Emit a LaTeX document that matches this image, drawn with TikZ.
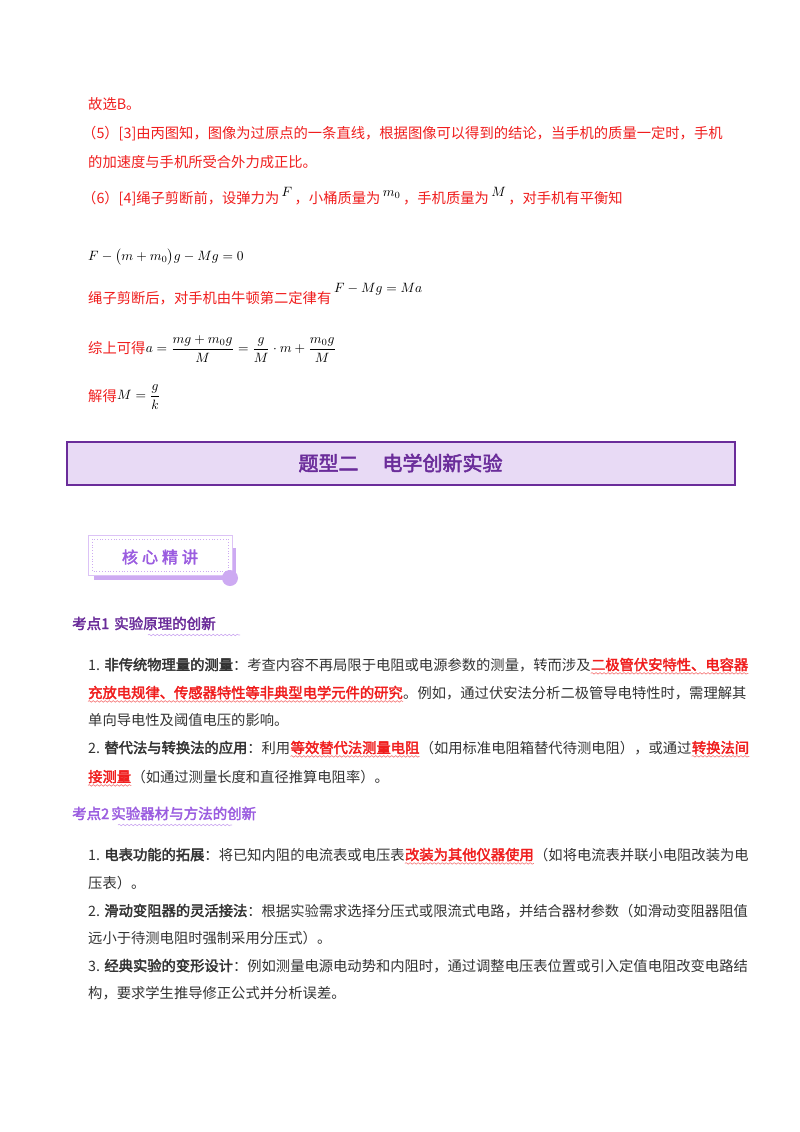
\documentclass[tikz,border=0pt]{standalone}
\usepackage{amsmath}
\usepackage{fontspec}
\setmainfont[AutoFakeBold=2.5]{Noto Sans CJK SC}
\usetikzlibrary{decorations.pathmorphing}
\definecolor{rd}{HTML}{F01E1E}
\definecolor{tx}{HTML}{333333}
\definecolor{pdark}{HTML}{6A2C9A}
\definecolor{pfill}{HTML}{E8DAF5}
\definecolor{pmid}{HTML}{9B5DE0}
\definecolor{plight}{HTML}{CDAAF2}
\newcommand{\mth}[1]{\scalebox{1.35}{\normalsize$#1$}}
\newcommand{\supm}[1]{\textcolor{black}{\raisebox{7pt}{\mth{#1}}}}
\begin{document}
\begin{tikzpicture}[x=1pt,y=-1pt,
 every node/.style={inner sep=0pt,anchor=base west,font=\fontsize{14.3}{17}\selectfont},
 txt/.style={text=tx},
 rtxt/.style={text=rd},
 hl/.style={text=rd,font=\fontsize{14.3}{17}\selectfont\bfseries},
 wav/.style={draw=rd!70,line width=0.5pt,decorate,decoration={snake,amplitude=0.8pt,segment length=4pt}},
 pwav/.style={draw=plight,line width=0.6pt,decorate,decoration={snake,amplitude=0.8pt,segment length=4pt}},
 eq/.style={text=black}]
\useasboundingbox (0,0) rectangle (800,1132);
\fill[white] (0,0) rectangle (800,1132);
% top red answer part
\node[rtxt] (a1) at (88,109) {故选B。};
\node[rtxt] (a2) at (82,138) {（5）[3]由丙图知，图像为过原点的一条直线，根据图像可以得到的结论，当手机的质量一定时，手机};
\node[rtxt] (a3) at (88,167) {的加速度与手机所受合外力成正比。};
\node[rtxt] (a4) at (82,203) {（6）[4]绳子剪断前，设弹力为\,\supm{F}\,，小桶质量为\,\supm{m_0}\,，手机质量为\,\supm{M}\,，对手机有平衡知};
\node[eq] (e1) at (88,260) {\mth{F-\bigl(m+m_0\bigr)g-Mg=0}};
\node[rtxt] (a5) at (88,303) {绳子剪断后，对手机由牛顿第二定律有};
\node[eq] (e2) at (a5.base east) [yshift=11pt] {\,\mth{F-Mg=Ma}};
\node[rtxt] (a6) at (88,353) {综上可得};
\node[eq,anchor=west] (e3) at (a6.base east) [yshift=4pt] {\mth{a=\dfrac{mg+m_0g}{M}=\dfrac{g}{M}\cdot m+\dfrac{m_0g}{M}}};
\node[rtxt] (a7) at (88,401) {解得};
\node[eq,anchor=west] (e4) at (a7.base east) [yshift=4pt] {\mth{M=\dfrac{g}{k}}};
% banner
\node[draw=pdark,line width=2pt,fill=pfill,minimum width=668pt,minimum height=43pt,anchor=center,text=pdark,font=\fontsize{20}{22}\selectfont\bfseries] (ban) at (400.5,463) {题型二\hspace{1.2em}电学创新实验};
% badge
\fill[plight] (94,548) rectangle (236,580);
\fill[white,draw=plight!70,line width=0.6pt] (88,535) rectangle (232,575);
\draw[plight,dotted,line width=0.8pt] (92,539) rectangle (228,571);
\fill[plight] (230,578) circle (8pt);
\node[text=pmid,font=\fontsize{16}{18}\selectfont\bfseries,anchor=center] (badge) at (160,557) {核\hspace{4pt}心\hspace{4pt}精\hspace{4pt}讲};
% kaodian 1
\node[text=pdark,font=\fontsize{14.5}{16}\selectfont\bfseries] (k1) at (72,629) {考点1\hspace{5pt}实验原理的创新};
\draw[pwav] (148,635) -- (240,635);
\node[txt] (l1a) at (88,670) {1. \textbf{非传统物理量的测量}：考查内容不再局限于电阻或电源参数的测量，转而涉及};
\node[hl] (l1b) at (l1a.base east) {二极管伏安特性、电容器};
\draw[wav] ([yshift=-2pt]l1b.south west) -- ([yshift=-2pt]l1b.south east);
\node[hl] (l2a) at (88,698) {充放电规律、传感器特性等非典型电学元件的研究};
\draw[wav] ([yshift=-2pt]l2a.south west) -- ([yshift=-2pt]l2a.south east);
\node[txt] (l2b) at (l2a.base east) {。例如，通过伏安法分析二极管导电特性时，需理解其};
\node[txt] (l3) at (88,725) {单向导电性及阈值电压的影响。};
\node[txt] (l4a) at (88,753) {2. \textbf{替代法与转换法的应用}：利用};
\node[hl] (l4b) at (l4a.base east) {等效替代法测量电阻};
\draw[wav] ([yshift=-2pt]l4b.south west) -- ([yshift=-2pt]l4b.south east);
\node[txt] (l4c) at (l4b.base east) {（如用标准电阻箱替代待测电阻），或通过};
\node[hl] (l4d) at (l4c.base east) {转换法间};
\draw[wav] ([yshift=-2pt]l4d.south west) -- ([yshift=-2pt]l4d.south east);
\node[hl] (l5a) at (88,782) {接测量};
\draw[wav] ([yshift=-2pt]l5a.south west) -- ([yshift=-2pt]l5a.south east);
\node[txt] (l5b) at (l5a.base east) {（如通过测量长度和直径推算电阻率）。};
% kaodian 2
\node[text=pmid,font=\fontsize{14.5}{16}\selectfont\bfseries] (k2) at (72,819) {考点2\hspace{2pt}实验器材与方法的创新};
\draw[pwav] (118,825) -- (232,825);
\node[txt] (m1a) at (88,860) {1. \textbf{电表功能的拓展}：将已知内阻的电流表或电压表};
\node[hl] (m1b) at (m1a.base east) {改装为其他仪器使用};
\draw[wav] ([yshift=-2pt]m1b.south west) -- ([yshift=-2pt]m1b.south east);
\node[txt] (m1c) at (m1b.base east) {（如将电流表并联小电阻改装为电};
\node[txt] (m2) at (88,888) {压表）。};
\node[txt] (m3) at (88,916) {2. \textbf{滑动变阻器的灵活接法}：根据实验需求选择分压式或限流式电路，并结合器材参数（如滑动变阻器阻值};
\node[txt] (m4) at (88,943) {远小于待测电阻时强制采用分压式）。};
\node[txt] (m5) at (88,971) {3. \textbf{经典实验的变形设计}：例如测量电源电动势和内阻时，通过调整电压表位置或引入定值电阻改变电路结};
\node[txt] (m6) at (88,998) {构，要求学生推导修正公式并分析误差。};
\end{tikzpicture}
\end{document}
